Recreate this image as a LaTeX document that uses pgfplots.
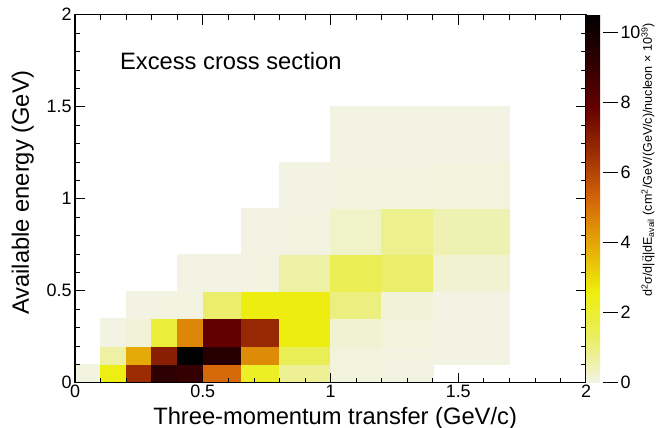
\documentclass[border=0pt]{standalone}
\usepackage{pgfplots}
\pgfplotsset{compat=1.18}
\usepgfplotslibrary{patchplots}
\usepackage{fontspec}
\setmainfont{Liberation Sans}
\begin{document}
\begin{tikzpicture}
\useasboundingbox (-75bp,-45.3bp) rectangle (592bp,382.7bp);
\begin{axis}[
  at={(0bp,0bp)}, anchor=south west,
  scale only axis, width=511bp, height=368bp,
  xmin=0, xmax=2, ymin=0, ymax=2,
  enlargelimits=false,
  axis line style={line width=1.2bp},
  axis on top,
  tick align=inside,
  xtick={0,0.5,1,1.5,2}, ytick={0,0.5,1,1.5,2},
  minor x tick num=4, minor y tick num=4,
  xtick pos=both, ytick pos=both,
  xticklabel pos=bottom, yticklabel pos=left,
  major tick length=10bp, minor tick length=5bp,
  tick style={black, line width=0.7bp},
  /pgf/number format/assume math mode=true,
  ticklabel style={font=\fontsize{18}{21}\selectfont},
  xticklabel style={yshift=1bp},
  xlabel={Three-momentum transfer (GeV/c)},
  ylabel={Available energy (GeV)},
  label style={font=\fontsize{23.8}{28}\selectfont},
  xlabel style={at={(axis description cs:0.509,-0.1128)}, anchor=base},
  ylabel style={at={(axis description cs:-0.0902,0.517)}, anchor=base},
  colormap={rootdbr}{rgb255(0cm)=(242,243,230); rgb255(1cm)=(234,238,95); rgb255(2cm)=(237,238,11); rgb255(3cm)=(230,168,8); rgb255(4cm)=(212,101,9); rgb255(5cm)=(156,45,3); rgb255(6cm)=(99,0,1); rgb255(7cm)=(45,0,1); rgb255(8cm)=(0,0,0)},
  point meta min=0, point meta max=10.5,
  colorbar,
  colorbar style={
    at={(1,1)}, anchor=north west, xshift=2bp,
    scale only axis, width=32bp, height=368bp,
    ytick={0,2,4,6,8,10},
    ytick pos=right, yticklabel pos=right,
    tick align=inside,
    major tick length=15bp,
    tick style={black, line width=0.7bp},
    axis line style={draw=none},
    /pgf/number format/assume math mode=true,
    yticklabel style={font=\fontsize{18}{21}\selectfont, xshift=-1bp},
    ylabel={d\textsuperscript{2}σ/d|\ensuremath{\vec{\mbox{q}}}|dE\textsubscript{avail} (cm\textsuperscript{2}/GeV/(GeV/c)/nucleon × 10\textsuperscript{39})},
    ylabel style={at={(axis description cs:2.06,0.986)}, anchor=base east, font=\fontsize{12.6}{15}\selectfont},
  },
]
\addplot[patch, patch type=rectangle, shader=flat, point meta=explicit] coordinates {
% col 0: q 0-0.1
(0,0)[0.05] (0.1,0)[0.05] (0.1,0.1)[0.05] (0,0.1)[0.05]
% col 1: q 0.1-0.2
(0.1,0)[2.5] (0.2,0)[2.5] (0.2,0.1)[2.5] (0.1,0.1)[2.5]
(0.1,0.1)[0.65] (0.2,0.1)[0.65] (0.2,0.2)[0.65] (0.1,0.2)[0.65]
(0.1,0.2)[0.04] (0.2,0.2)[0.04] (0.2,0.35)[0.04] (0.1,0.35)[0.04]
% col 2: q 0.2-0.3
(0.2,0)[6.6] (0.3,0)[6.6] (0.3,0.1)[6.6] (0.2,0.1)[6.6]
(0.2,0.1)[3.9] (0.3,0.1)[3.9] (0.3,0.2)[3.9] (0.2,0.2)[3.9]
(0.2,0.2)[0.15] (0.3,0.2)[0.15] (0.3,0.35)[0.15] (0.2,0.35)[0.15]
(0.2,0.35)[0.04] (0.3,0.35)[0.04] (0.3,0.5)[0.04] (0.2,0.5)[0.04]
% col 3: q 0.3-0.4
(0.3,0)[9.2] (0.4,0)[9.2] (0.4,0.1)[9.2] (0.3,0.1)[9.2]
(0.3,0.1)[7.0] (0.4,0.1)[7.0] (0.4,0.2)[7.0] (0.3,0.2)[7.0]
(0.3,0.2)[1.9] (0.4,0.2)[1.9] (0.4,0.35)[1.9] (0.3,0.35)[1.9]
(0.3,0.35)[0.05] (0.4,0.35)[0.05] (0.4,0.5)[0.05] (0.3,0.5)[0.05]
% col 4: q 0.4-0.5
(0.4,0)[9.0] (0.5,0)[9.0] (0.5,0.1)[9.0] (0.4,0.1)[9.0]
(0.4,0.1)[10.5] (0.5,0.1)[10.5] (0.5,0.2)[10.5] (0.4,0.2)[10.5]
(0.4,0.2)[4.6] (0.5,0.2)[4.6] (0.5,0.35)[4.6] (0.4,0.35)[4.6]
(0.4,0.35)[0.06] (0.5,0.35)[0.06] (0.5,0.5)[0.06] (0.4,0.5)[0.06]
(0.4,0.5)[0.03] (0.5,0.5)[0.03] (0.5,0.7)[0.03] (0.4,0.7)[0.03]
% col 5: q 0.5-0.65
(0.5,0)[5.2] (0.65,0)[5.2] (0.65,0.1)[5.2] (0.5,0.1)[5.2]
(0.5,0.1)[9.4] (0.65,0.1)[9.4] (0.65,0.2)[9.4] (0.5,0.2)[9.4]
(0.5,0.2)[7.9] (0.65,0.2)[7.9] (0.65,0.35)[7.9] (0.5,0.35)[7.9]
(0.5,0.35)[1.2] (0.65,0.35)[1.2] (0.65,0.5)[1.2] (0.5,0.5)[1.2]
(0.5,0.5)[0.04] (0.65,0.5)[0.04] (0.65,0.7)[0.04] (0.5,0.7)[0.04]
% col 6: q 0.65-0.8
(0.65,0)[2.2] (0.8,0)[2.2] (0.8,0.1)[2.2] (0.65,0.1)[2.2]
(0.65,0.1)[4.5] (0.8,0.1)[4.5] (0.8,0.2)[4.5] (0.65,0.2)[4.5]
(0.65,0.2)[6.7] (0.8,0.2)[6.7] (0.8,0.35)[6.7] (0.65,0.35)[6.7]
(0.65,0.35)[2.55] (0.8,0.35)[2.55] (0.8,0.5)[2.55] (0.65,0.5)[2.55]
(0.65,0.5)[0.05] (0.8,0.5)[0.05] (0.8,0.7)[0.05] (0.65,0.7)[0.05]
(0.65,0.7)[0.03] (0.8,0.7)[0.03] (0.8,0.95)[0.03] (0.65,0.95)[0.03]
% col 7: q 0.8-1.0
(0.8,0)[0.8] (1.0,0)[0.8] (1.0,0.1)[0.8] (0.8,0.1)[0.8]
(0.8,0.1)[1.45] (1.0,0.1)[1.45] (1.0,0.2)[1.45] (0.8,0.2)[1.45]
(0.8,0.2)[2.55] (1.0,0.2)[2.55] (1.0,0.35)[2.55] (0.8,0.35)[2.55]
(0.8,0.35)[2.55] (1.0,0.35)[2.55] (1.0,0.5)[2.55] (0.8,0.5)[2.55]
(0.8,0.5)[0.65] (1.0,0.5)[0.65] (1.0,0.7)[0.65] (0.8,0.7)[0.65]
(0.8,0.7)[0.06] (1.0,0.7)[0.06] (1.0,0.95)[0.06] (0.8,0.95)[0.06]
(0.8,0.95)[0.03] (1.0,0.95)[0.03] (1.0,1.2)[0.03] (0.8,1.2)[0.03]
% col 8: q 1.0-1.2
(1.0,0)[0.1] (1.2,0)[0.1] (1.2,0.1)[0.1] (1.0,0.1)[0.1]
(1.0,0.1)[0.12] (1.2,0.1)[0.12] (1.2,0.2)[0.12] (1.0,0.2)[0.12]
(1.0,0.2)[0.2] (1.2,0.2)[0.2] (1.2,0.35)[0.2] (1.0,0.35)[0.2]
(1.0,0.35)[1.0] (1.2,0.35)[1.0] (1.2,0.5)[1.0] (1.0,0.5)[1.0]
(1.0,0.5)[1.5] (1.2,0.5)[1.5] (1.2,0.7)[1.5] (1.0,0.7)[1.5]
(1.0,0.7)[0.3] (1.2,0.7)[0.3] (1.2,0.95)[0.3] (1.0,0.95)[0.3]
(1.0,0.95)[0.05] (1.2,0.95)[0.05] (1.2,1.2)[0.05] (1.0,1.2)[0.05]
(1.0,1.2)[0.03] (1.2,1.2)[0.03] (1.2,1.5)[0.03] (1.0,1.5)[0.03]
% col 9: q 1.2-1.4
(1.2,0)[0.04] (1.4,0)[0.04] (1.4,0.1)[0.04] (1.2,0.1)[0.04]
(1.2,0.1)[0.06] (1.4,0.1)[0.06] (1.4,0.2)[0.06] (1.2,0.2)[0.06]
(1.2,0.2)[0.12] (1.4,0.2)[0.12] (1.4,0.35)[0.12] (1.2,0.35)[0.12]
(1.2,0.35)[0.15] (1.4,0.35)[0.15] (1.4,0.5)[0.15] (1.2,0.5)[0.15]
(1.2,0.5)[1.2] (1.4,0.5)[1.2] (1.4,0.7)[1.2] (1.2,0.7)[1.2]
(1.2,0.7)[0.85] (1.4,0.7)[0.85] (1.4,0.95)[0.85] (1.2,0.95)[0.85]
(1.2,0.95)[0.06] (1.4,0.95)[0.06] (1.4,1.2)[0.06] (1.2,1.2)[0.06]
(1.2,1.2)[0.03] (1.4,1.2)[0.03] (1.4,1.5)[0.03] (1.2,1.5)[0.03]
% col 10: q 1.4-1.7
(1.4,0.1)[0.03] (1.7,0.1)[0.03] (1.7,0.2)[0.03] (1.4,0.2)[0.03]
(1.4,0.2)[0.03] (1.7,0.2)[0.03] (1.7,0.35)[0.03] (1.4,0.35)[0.03]
(1.4,0.35)[0.03] (1.7,0.35)[0.03] (1.7,0.5)[0.03] (1.4,0.5)[0.03]
(1.4,0.5)[0.2] (1.7,0.5)[0.2] (1.7,0.7)[0.2] (1.4,0.7)[0.2]
(1.4,0.7)[0.5] (1.7,0.7)[0.5] (1.7,0.95)[0.5] (1.4,0.95)[0.5]
(1.4,0.95)[0.12] (1.7,0.95)[0.12] (1.7,1.2)[0.12] (1.4,1.2)[0.12]
(1.4,1.2)[0.03] (1.7,1.2)[0.03] (1.7,1.5)[0.03] (1.4,1.5)[0.03]
};
\node[anchor=base west, inner sep=0pt, font=\fontsize{23.8}{28}\selectfont] at (axis cs:0.176,1.703) {Excess cross section};
\end{axis}
\end{tikzpicture}
\end{document}
